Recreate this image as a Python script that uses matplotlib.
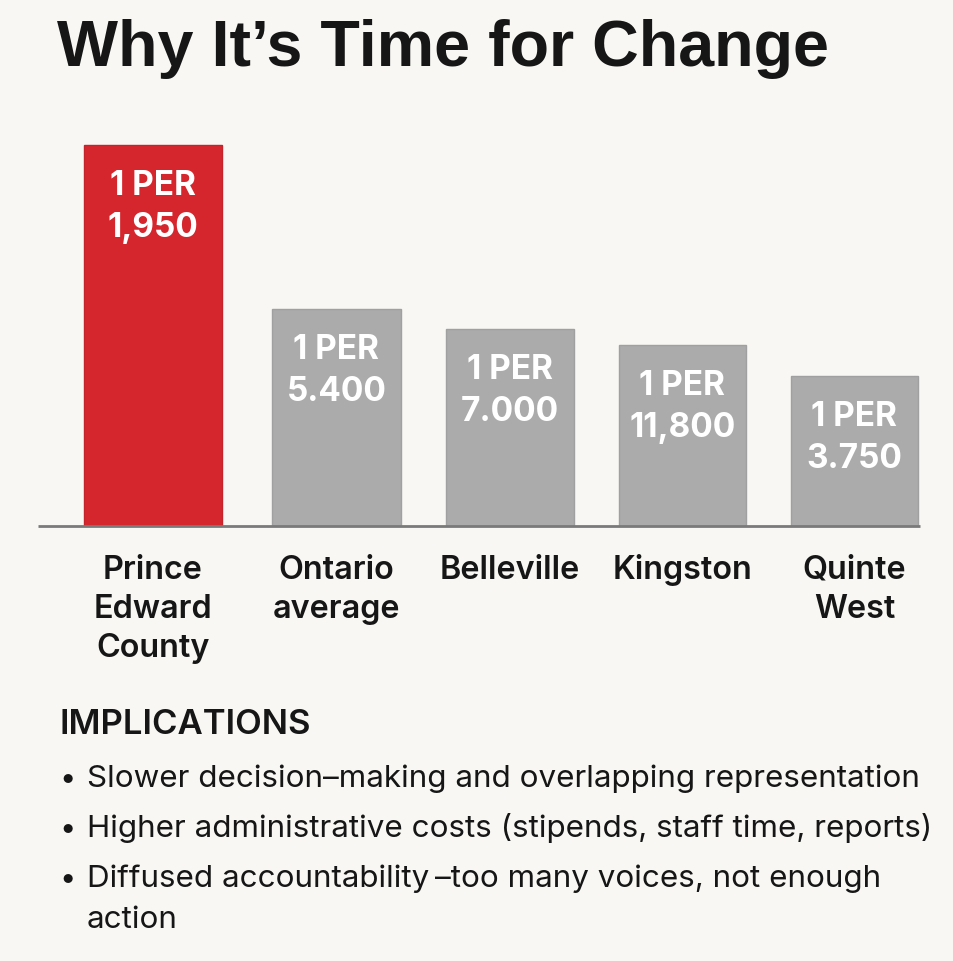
import matplotlib
matplotlib.use("Agg")
import matplotlib.pyplot as plt

# ---- data ----
categories = ["Prince\nEdward\nCounty", "Ontario\naverage", "Belleville", "Kingston", "Quinte\nWest"]
ratio_labels = ["1 PER\n1,950", "1 PER\n5.400", "1 PER\n7.000", "1 PER\n11,800", "1 PER\n3.750"]
bar_heights = [381, 217, 197, 181, 150]   # visual heights as drawn (px units)
highlight = [True, False, False, False, False]

title = "Why It\u2019s Time for Change"
section_heading = "IMPLICATIONS"
bullets = [
    "Slower decision\u2013making and overlapping representation",
    "Higher administrative costs (stipends, staff time, reports)",
    "Diffused accountability\u2009\u2013too many voices, not enough\naction",
]

# ---- layout ----
W, H = 954, 961
BG = "#F8F7F3"
RED = "#D6262D"
GRAY = "#ABABAB"
bar_centers = [153, 336.5, 510, 682.5, 854.5]
bar_widths = [138, 129, 128, 127, 127]
baseline_y = 526

fig = plt.figure(figsize=(W / 100, H / 100), dpi=100)
fig.patch.set_facecolor(BG)

def fx(x):
    return x / W

def fy(y):
    return 1 - y / H

ax_h = 420
ax = fig.add_axes([0, (H - baseline_y) / H, 1, ax_h / H])
ax.set_facecolor("none")
ax.set_xlim(0, W)
ax.set_ylim(0, ax_h)
for s in ax.spines.values():
    s.set_visible(False)
ax.set_xticks([])
ax.set_yticks([])

colors = [RED if h else GRAY for h in highlight]
edges = ["#C4232A" if h else "#A0A0A0" for h in highlight]
ax.bar(bar_centers, bar_heights, width=bar_widths, color=colors,
       edgecolor=edges, linewidth=1.0, zorder=2)
ax.plot([38, 920], [0, 0], color="#7A7A7A", lw=2, solid_capstyle="butt", zorder=3,
        clip_on=False)

label_font = ["Inter", "DejaVu Sans"]
for x, h, lab in zip(bar_centers, bar_heights, ratio_labels):
    l1, l2 = lab.split("\n")
    ax.text(x, h - 50, l1, ha="center", va="baseline", color="white",
            fontsize=24, fontweight="bold", family=label_font, zorder=4)
    ax.text(x, h - 92, l2, ha="center", va="baseline", color="white",
            fontsize=24, fontweight="bold", family=label_font, zorder=4)

for x, cat in zip(bar_centers, categories):
    for i, line in enumerate(cat.split("\n")):
        fig.text(fx(x), fy(579 + 39 * i), line, ha="center", va="baseline",
                 fontsize=23.3, fontweight="semibold", family=label_font, color="#161616")

fig.text(fx(57), fy(66), title, ha="left", va="baseline", fontsize=46.5,
         fontweight="bold", family=["Liberation Sans", "DejaVu Sans"], color="#161616")

fig.text(fx(60), fy(734), section_heading, ha="left", va="baseline", fontsize=25,
         fontweight="semibold", family=label_font, color="#161616")

y = 787
for b in bullets:
    lines = b.split("\n")
    fig.text(fx(59), fy(y), "\u2022", ha="left", va="baseline", fontsize=21,
             family=label_font, color="#161616")
    for j, line in enumerate(lines):
        fig.text(fx(87), fy(y + 41 * j), line, ha="left", va="baseline", fontsize=22.6,
                 family=label_font, color="#161616")
    y += 50

fig.savefig("out.png", dpi=100, facecolor=BG)
